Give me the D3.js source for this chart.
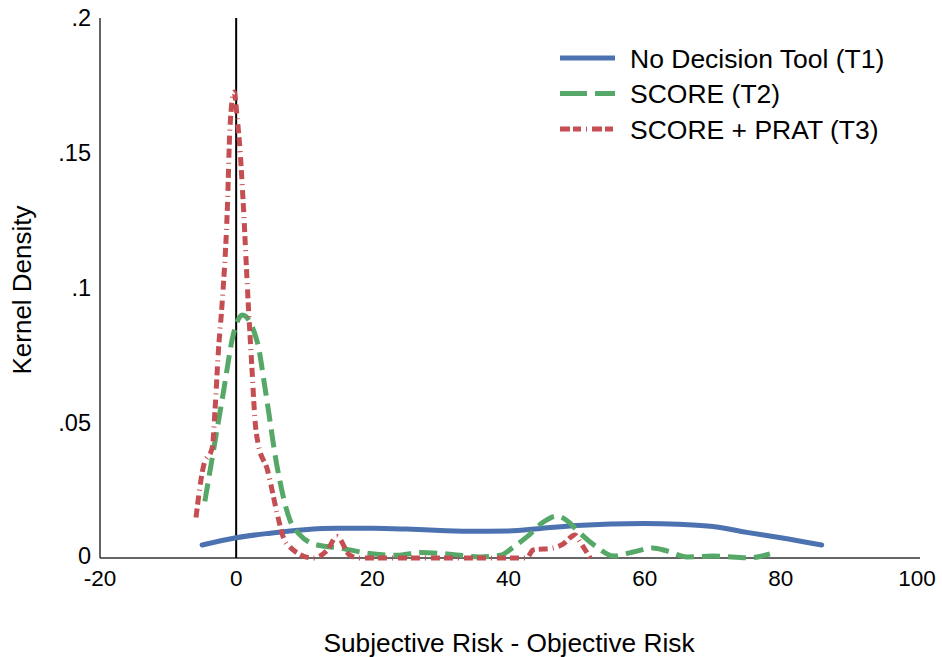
<!DOCTYPE html>
<html>
<head>
<meta charset="utf-8">
<script src="https://cdn.jsdelivr.net/npm/d3@7/dist/d3.min.js"></script>
<style>
  html, body { margin: 0; padding: 0; background: #fff; }
  svg { display: block; font-family: Arial, "Liberation Sans", sans-serif; }
</style>
</head>
<body>
<svg id="chart" width="942" height="657"></svg>
<script>
// Kernel density estimates of (subjective - objective) risk by treatment
const t1X = [-5, 0, 5, 10, 15, 20, 25, 30, 35, 40, 45, 50, 55, 60, 65, 70, 75, 80, 86];
const t1Y = [0.0048, 0.0075, 0.0092, 0.0105, 0.011, 0.011, 0.0107, 0.0102, 0.0099, 0.0100, 0.011, 0.0120, 0.0126, 0.0128, 0.0125, 0.0117, 0.0095, 0.0075, 0.0048];

const t2X = [-4.6, -1.9, -0.4, 0.9, 3.1, 4.3, 6.0, 7.9, 9.4, 10.9, 11.9, 15.3, 16.7, 19.2, 23.6, 27, 31, 35.8, 38.8, 40.7, 42.7, 45.1, 47.1, 49, 50, 53, 55.4, 58.3, 61.2, 63.3, 66.2, 70, 75.5, 78.4];
const t2Y = [0.021, 0.061, 0.083, 0.090, 0.080, 0.062, 0.034, 0.014, 0.0085, 0.0056, 0.0048, 0.0037, 0.003, 0.0018, 0.001, 0.002, 0.0015, 0.0004, 0.001, 0.004, 0.0078, 0.0133, 0.0155, 0.013, 0.0104, 0.004, 0.0007, 0.0022, 0.0037, 0.0026, 0.0004, 0.0007, 0.0001, 0.0015];

const t3X = [-5.9, -4.8, -3.5, -3.1, -2.6, -2.1, -1.3, -0.9, -0.3, 0.15, 0.6, 1.0, 1.8, 2.3, 2.8, 3.2, 4.6, 6.0, 6.9, 7.9, 11.3, 13.4, 14.8, 16.7, 18.2, 42.7, 43.6, 46.5, 47.9, 49.8, 50.5, 52];
const t3Y = [0.015, 0.034, 0.041, 0.055, 0.077, 0.093, 0.129, 0.160, 0.1726, 0.163, 0.150, 0.133, 0.093, 0.071, 0.050, 0.0426, 0.0326, 0.0167, 0.0078, 0.004, 0, 0.003, 0.008, 0.001, 0, 0, 0.003, 0.0037, 0.005, 0.0085, 0.006, 0];

const seriesNames = ["No Decision Tool (T1)", "SCORE (T2)", "SCORE + PRAT (T3)"];
const xTicks = [-20, 0, 20, 40, 60, 80, 100];
const yTicks = [0, 0.05, 0.1, 0.15, 0.2];
const yTickLabels = ["0", ".05", ".1", ".15", ".2"];

const colors = ["#4c72b0", "#55a868", "#c44e52"];
const dashes = [null, "18,8", "9,4,9,5,1,5"];
const legendDashes = [null, "27,8", "10,3,8,5,1,5"];

const svg = d3.select("#chart");
const x = d3.scaleLinear().domain([-20, 100]).range([100, 917]);
const y = d3.scaleLinear().domain([0, 0.2]).range([558, 18]);

// axes lines
svg.append("line").attr("x1", 100).attr("x2", 920).attr("y1", y(0)).attr("y2", y(0))
  .attr("stroke", "#333").attr("stroke-width", 1.5);
svg.append("line").attr("x1", 100).attr("x2", 100).attr("y1", y(0.2)).attr("y2", y(0))
  .attr("stroke", "#333").attr("stroke-width", 1.5);

// reference line at zero difference
svg.append("line").attr("x1", x(0)).attr("x2", x(0)).attr("y1", y(0.2)).attr("y2", y(0))
  .attr("stroke", "#000").attr("stroke-width", 2);

// tick labels
svg.append("g").selectAll("text").data(xTicks).join("text")
  .attr("x", d => x(d)).attr("y", 586)
  .attr("text-anchor", "middle").attr("font-size", 22.5).attr("fill", "#000")
  .text(d => d);
svg.append("g").selectAll("text").data(yTicks).join("text")
  .attr("x", 91).attr("y", d => y(d) - (d === 0 ? 2 : 0)).attr("dy", "0.36em")
  .attr("text-anchor", "end").attr("font-size", 23.5).attr("fill", "#000")
  .text((d, i) => yTickLabels[i]);

// axis titles
svg.append("text").attr("x", 509).attr("y", 652).attr("text-anchor", "middle")
  .attr("font-size", 26.3).attr("fill", "#000").text("Subjective Risk - Objective Risk");
svg.append("text").attr("transform", "translate(31,290) rotate(-90)").attr("text-anchor", "middle")
  .attr("font-size", 26).attr("fill", "#000").text("Kernel Density");

// density curves
const line = d3.line().x(d => x(d[0])).y(d => y(d[1])).curve(d3.curveMonotoneX);
const series = [
  d3.zip(t1X, t1Y),
  d3.zip(t2X, t2Y),
  d3.zip(t3X, t3Y)
];
series.forEach((pts, i) => {
  svg.append("path").attr("d", line(pts)).attr("fill", "none")
    .attr("stroke", colors[i]).attr("stroke-width", 5)
    .attr("stroke-linecap", i === 0 ? "round" : "butt")
    .attr("stroke-dasharray", dashes[i]);
});

// legend
const legend = svg.append("g");
seriesNames.forEach((name, i) => {
  const cy = 58 + i * 35.5;
  legend.append("line").attr("x1", 560).attr("x2", 615).attr("y1", cy).attr("y2", cy)
    .attr("stroke", colors[i]).attr("stroke-width", 5)
    .attr("stroke-dasharray", legendDashes[i]);
  legend.append("text").attr("x", 630).attr("y", cy).attr("dy", "0.36em")
    .attr("font-size", 26.5).attr("fill", "#000").text(name);
});
</script>
</body>
</html>
